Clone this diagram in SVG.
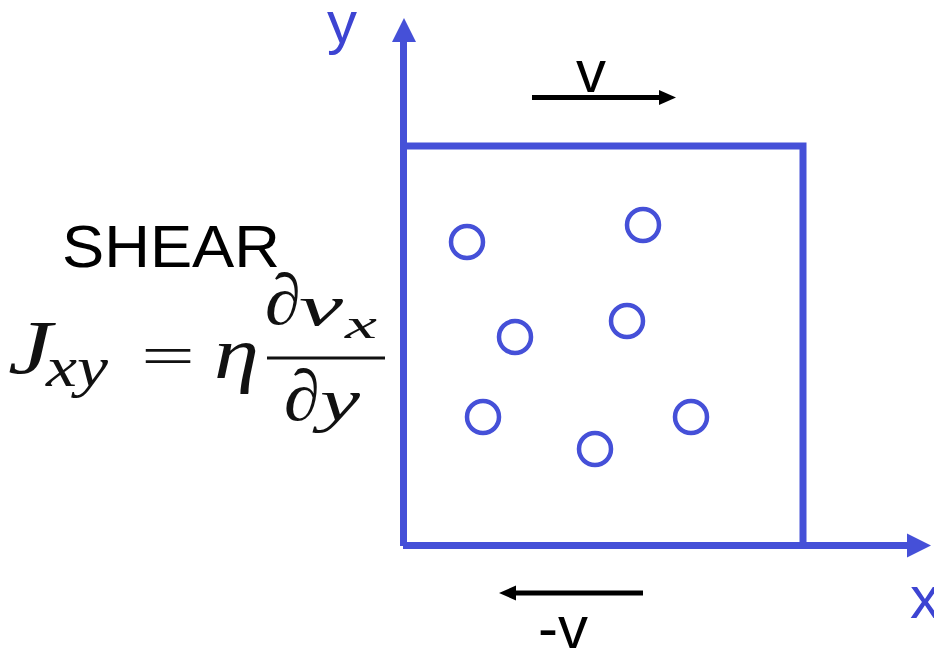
<svg xmlns="http://www.w3.org/2000/svg" width="934" height="653" viewBox="0 0 934 653">
<style>
.ax{stroke:#4550d8;stroke-width:7;fill:none}
.pt{stroke:#4550d8;stroke-width:4.5;fill:none}
.blu{fill:#4550d8}
.lbl{font-family:"Liberation Sans",Arial,sans-serif;font-size:60px}
.m{font-family:"Liberation Serif","DejaVu Serif",serif;font-style:italic;fill:#111}
.mr{font-family:"Liberation Serif","DejaVu Serif",serif;fill:#111}
</style>
<rect width="934" height="653" fill="#fff"/>
<g id="connectors">
<line class="ax" x1="403.5" y1="40" x2="403.5" y2="546"/>
<polygon class="blu" points="404,18 392,42 416,42"/>
<line class="ax" x1="403" y1="545.5" x2="910" y2="545.5"/>
<polygon class="blu" points="931,545.5 907,533.5 907,557.5"/>
<line stroke="#000" stroke-width="5" x1="532" y1="97.5" x2="662" y2="97.5"/>
<polygon fill="#000" points="676,97.5 659,90 659,105"/>
<line stroke="#000" stroke-width="5" x1="643" y1="593" x2="513" y2="593"/>
<polygon fill="#000" points="499,593 516,585.5 516,600.5"/>
</g>
<g id="box">
<polyline class="ax" points="403,146 803,146 803,545"/>
</g>
<g id="particles">
<circle class="pt" cx="467" cy="242" r="16"/>
<circle class="pt" cx="643" cy="225" r="16"/>
<circle class="pt" cx="515" cy="337" r="16"/>
<circle class="pt" cx="627" cy="321" r="16"/>
<circle class="pt" cx="483" cy="417" r="16"/>
<circle class="pt" cx="595" cy="449" r="16"/>
<circle class="pt" cx="691" cy="417" r="16"/>
</g>
<g id="labels">
<text class="lbl" x="327" y="43" fill="#3d44d2">y</text>
<text class="lbl" x="910" y="618" fill="#3d44d2">x</text>
<text class="lbl" x="576" y="92" fill="#000">v</text>
<text class="lbl" x="538" y="648" fill="#000">-v</text>
<text class="lbl" x="62" y="267" fill="#000" font-size="60" textLength="218" lengthAdjust="spacingAndGlyphs">SHEAR</text>
</g>
<g id="formula">
<text class="m" x="8" y="373" font-size="76" textLength="44" lengthAdjust="spacingAndGlyphs">J</text>
<text class="m" x="46" y="386" font-size="56" textLength="62" lengthAdjust="spacingAndGlyphs">xy</text>
<text class="mr" x="141" y="375" font-size="57" textLength="54" lengthAdjust="spacingAndGlyphs">=</text>
<text class="m" x="214" y="378" font-size="74" textLength="45" lengthAdjust="spacingAndGlyphs">η</text>
<line stroke="#111" stroke-width="3" x1="267" y1="358" x2="385" y2="358"/>
<text class="mr" x="265" y="324" font-size="72">∂</text>
<text class="m" x="299" y="325" font-size="58" textLength="44" lengthAdjust="spacingAndGlyphs">v</text>
<text class="m" x="345" y="338" font-size="42" textLength="32" lengthAdjust="spacingAndGlyphs">x</text>
<text class="mr" x="284" y="420" font-size="72">∂</text>
<text class="m" x="320" y="420" font-size="60" textLength="40" lengthAdjust="spacingAndGlyphs">y</text>
</g>
</svg>
